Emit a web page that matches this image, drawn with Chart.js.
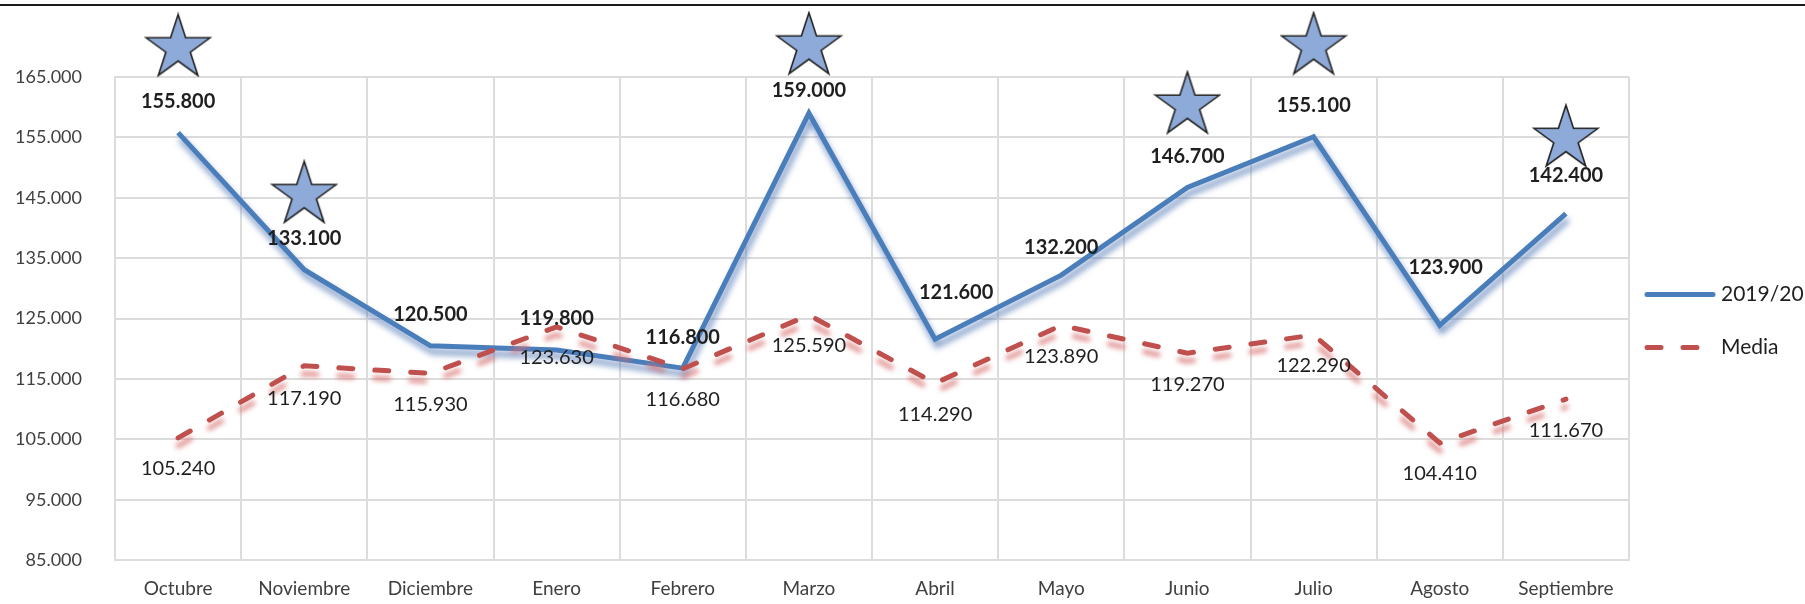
<!DOCTYPE html>
<html>
<head>
<meta charset="utf-8">
<script src="https://cdn.jsdelivr.net/npm/chart.js@4/dist/chart.umd.min.js"></script>
<style>
  html, body { margin: 0; padding: 0; background: #fff; overflow: hidden; }
  #wrap { position: relative; width: 1805px; height: 604px; }
  #topline { position: absolute; left: 0; top: 4px; width: 1805px; height: 2px; background: #1a1a1a; }
</style>
</head>
<body>
<div id="wrap">
  <canvas id="grafico" width="1805" height="604"></canvas>
  <div id="topline"></div>
</div>
<script>
const meses = ["Octubre", "Noviembre", "Diciembre", "Enero", "Febrero", "Marzo", "Abril", "Mayo", "Junio", "Julio", "Agosto", "Septiembre"];
const serie2019 = [155800, 133100, 120500, 119800, 116800, 159000, 121600, 132200, 146700, 155100, 123900, 142400];
const media = [105240, 117190, 115930, 123630, 116680, 125590, 114290, 123890, 119270, 122290, 104410, 111670];
// estrellas dibujadas encima de algunos meses (altura en unidades del eje)
const estrellas = [170300, 146000, null, null, null, 170600, null, null, 160800, 170600, null, 155300];
const ejeMin = 85000;
const ejeMax = 165000;
const ejePaso = 10000;

const fuente = "Lato, 'Open Sans', sans-serif";

function miles(v) {
	return String(v).replace(/\B(?=(\d{3})+(?!\d))/g, ".");
}

// estrella de 5 puntas como imagen para pointStyle
function crearEstrella(ancho) {
	const R = ancho / (2 * Math.sin(2 * Math.PI / 5));
	const r = R * 0.382;
	const alto = R * (1 + Math.cos(Math.PI / 5));
	const c = document.createElement("canvas");
	c.width = Math.ceil(ancho) + 4;
	c.height = Math.ceil(alto) + 4;
	const g = c.getContext("2d");
	const cx = c.width / 2;
	const cy = (c.height - alto) / 2 + R;
	g.beginPath();
	for (let k = 0; k < 10; k++) {
		const rad = k % 2 ? r : R;
		const a = -Math.PI / 2 + k * Math.PI / 5;
		g.lineTo(cx + rad * Math.cos(a), cy + rad * Math.sin(a));
	}
	g.closePath();
	g.fillStyle = "#8eaad8";
	g.fill();
	g.lineWidth = 1.6;
	g.strokeStyle = "#222";
	g.stroke();
	return c;
}

// sombra difusa bajo cada serie, como en Excel
const sombras = [
	{ color: "rgba(70,110,175,0.75)", blur: 6, dx: 2, dy: 6 },
	{ color: "rgba(215,110,110,0.75)", blur: 5, dx: 0, dy: 8 },
];

const sombraPlugin = {
	id: "sombra",
	beforeDatasetDraw(chart, args) {
		const s = sombras[args.index];
		if (!s) return;
		const ctx = chart.ctx;
		ctx.save();
		ctx.shadowColor = s.color;
		ctx.shadowBlur = s.blur;
		ctx.shadowOffsetX = s.dx;
		ctx.shadowOffsetY = s.dy;
	},
	afterDatasetDraw(chart, args) {
		if (sombras[args.index]) chart.ctx.restore();
	},
};

// etiquetas de valores: azul en negrita arriba, media debajo
const etiquetasPlugin = {
	id: "etiquetas",
	afterDatasetsDraw(chart, args, opts) {
		const ctx = chart.ctx;
		ctx.save();
		ctx.textAlign = "center";
		ctx.textBaseline = "middle";
		ctx.fillStyle = "#1f1f1f";
		[0, 1].forEach((di) => {
			const meta = chart.getDatasetMeta(di);
			const ds = chart.data.datasets[di];
			ctx.font = (di === 0 ? "bold " : "") + "20px " + fuente;
			meta.data.forEach((p, i) => {
				const base = di === 0 ? [0, -31] : [0, 31];
				const d = (di === 0 ? opts.ajusteAzul : opts.ajusteMedia)[i] || base;
				ctx.fillText(miles(ds.data[i]), p.x + d[0], p.y + d[1]);
			});
		});
		ctx.restore();
	},
};

// leyenda a la derecha
const leyendaPlugin = {
	id: "leyendaLateral",
	afterDraw(chart) {
		const ctx = chart.ctx;
		const ca = chart.chartArea;
		const y0 = (ca.top + ca.bottom) / 2 - 24;
		const x0 = ca.right + 16;
		chart.data.datasets.filter((d) => d.enLeyenda).forEach((ds, i) => {
			const y = y0 + i * 53;
			ctx.save();
			ctx.strokeStyle = ds.borderColor;
			ctx.lineWidth = ds.borderWidth;
			ctx.lineCap = "round";
			ctx.setLineDash(ds.borderDash || []);
			ctx.beginPath();
			ctx.moveTo(x0 + 2, y);
			ctx.lineTo(x0 + 68, y);
			ctx.stroke();
			ctx.restore();
			ctx.save();
			ctx.font = "21px " + fuente;
			ctx.fillStyle = "#1f1f1f";
			ctx.textBaseline = "middle";
			ctx.fillText(ds.label, x0 + 76, y);
			ctx.restore();
		});
	},
};

const rejilla = "#dcdcdc";

new Chart(document.getElementById("grafico"), {
	type: "line",
	data: {
		labels: meses,
		datasets: [
			{
				label: "2019/20",
				data: serie2019,
				borderColor: "#4a7ebb",
				borderWidth: 5,
				pointRadius: 0,
				tension: 0,
				enLeyenda: true,
				order: 1,
			},
			{
				label: "Media",
				data: media,
				borderColor: "#c0504d",
				borderWidth: 5,
				borderDash: [14, 22],
				borderCapStyle: "round",
				pointRadius: 0,
				tension: 0,
				enLeyenda: true,
				order: 0,
			},
			{
				label: "estrellas",
				data: estrellas,
				showLine: false,
				pointStyle: crearEstrella(64),
				pointRadius: 40,
				clip: false,
				order: -1,
			},
		],
	},
	options: {
		responsive: false,
		animation: false,
		devicePixelRatio: 1,
		layout: { padding: { left: 0, top: 77, right: 176, bottom: 0 } },
		plugins: {
			legend: { display: false },
			tooltip: { enabled: false },
			etiquetas: {
				ajusteAzul: { 5: [0, -23], 6: [21, -47], 7: [0, -28], 10: [6, -58], 11: [0, -38] },
				ajusteMedia: { 1: [0, 33] },
			},
		},
		scales: {
			x: {
				offset: true,
				grid: { offset: true, color: rejilla, lineWidth: 2, drawTicks: false },
				border: { color: rejilla, width: 2 },
				ticks: {
					padding: 17,
					color: "#404040",
					font: { family: fuente, size: 19 },
					maxRotation: 0,
					autoSkip: false,
				},
				afterFit(scale) { scale.height = 38; },
			},
			y: {
				min: ejeMin,
				max: ejeMax,
				grid: { color: rejilla, lineWidth: 2, drawTicks: false },
				border: { color: rejilla, width: 2 },
				ticks: {
					stepSize: ejePaso,
					padding: 33,
					color: "#404040",
					font: { family: fuente, size: 18 },
					callback: (v) => miles(v),
				},
				afterFit(scale) { scale.width = 115; },
			},
		},
	},
	plugins: [sombraPlugin, etiquetasPlugin, leyendaPlugin],
});
</script>
</body>
</html>
